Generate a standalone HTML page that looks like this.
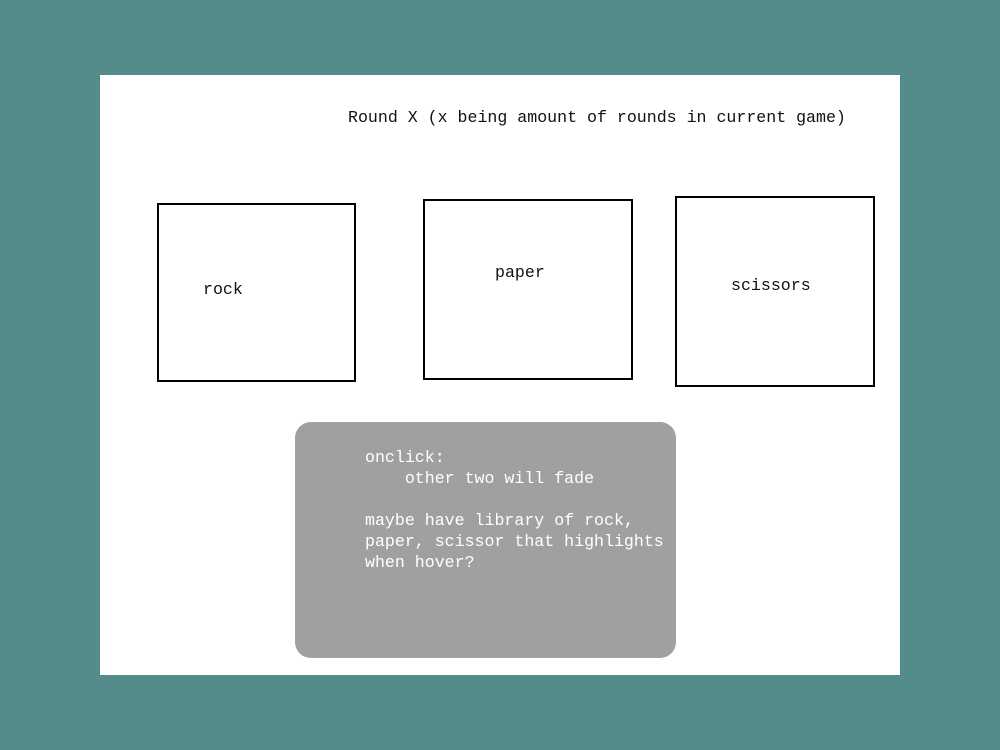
<!DOCTYPE html>
<html><head><meta charset="utf-8">
<style>
html,body{margin:0;padding:0;}
body{width:1000px;height:750px;background:#548c8c;position:relative;overflow:hidden;font-family:"Liberation Mono",monospace;font-size:16.6px;}
.panel{position:absolute;left:100px;top:75px;width:800px;height:600px;background:#fff;}
.t{position:absolute;white-space:pre;color:#111;line-height:21px;}
.box{position:absolute;border:2px solid #000;box-sizing:border-box;}
.note{position:absolute;left:295px;top:422px;width:381px;height:236px;background:#a0a0a0;border-radius:16px;}
.note .t{color:#fff;}
</style></head>
<body>
<div class="panel"></div>
<div class="t" style="left:348px;top:107px">Round X (x being amount of rounds in current game)</div>
<div class="box" style="left:157px;top:203px;width:199px;height:179px"></div>
<div class="t" style="left:203px;top:279px">rock</div>
<div class="box" style="left:423px;top:199px;width:210px;height:181px"></div>
<div class="t" style="left:495px;top:262px">paper</div>
<div class="box" style="left:675px;top:196px;width:200px;height:191px"></div>
<div class="t" style="left:731px;top:275px">scissors</div>
<div class="note"></div>
<div class="t" style="left:365px;top:447px;color:#fff">onclick:
    other two will fade

maybe have library of rock,
paper, scissor that highlights
when hover?</div>
</body></html>
